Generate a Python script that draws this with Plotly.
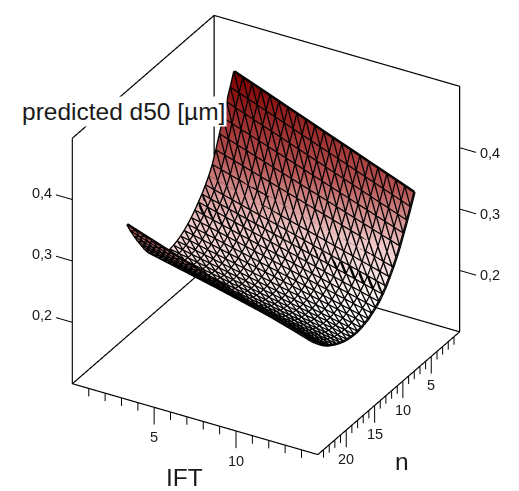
import plotly.graph_objects as go

# Grid of the surface
ift_values = [2.0, 2.55, 3.1, 3.65, 4.2, 4.75, 5.3, 5.85, 6.4, 6.95, 7.5, 8.05, 8.6, 9.15, 9.7, 10.25, 10.8, 11.35, 11.9, 12.45, 13.0]
n_values = [2.2, 2.83, 3.46, 4.09, 4.72, 5.35, 5.98, 6.61, 7.24, 7.87, 8.5, 9.13, 9.76, 10.39, 11.02, 11.65,
            12.28, 12.91, 13.54, 14.17, 14.8, 15.43, 16.06, 16.69, 17.32, 17.95, 18.58, 19.21, 19.84, 20.47, 21.1]
# d50 along the two IFT edges of the surface
d50_low_ift = [.442, .422, .403, .382, .361, .340, .321, .307, .296, .286, .278, .270, .263, .257, .252, .248,
               .245, .243, .242, .243, .245, .248, .253, .260, .268, .278, .290, .302, .315, .329, .344]
d50_high_ift = [.330, .312, .295, .279, .263, .249, .237, .226, .216, .208, .201, .196, .192, .188, .186, .184,
                .183, .183, .184, .185, .187, .190, .193, .197, .201, .206, .212, .219, .226, .234, .243]

ift_limits = [0, 15]
n_limits = [0, 25]
z_limits = [0.1, 0.5]
ift_ticks = list(range(1, 15))
ift_labels = {5: "5", 10: "10"}
n_ticks = list(range(1, 25))
n_labels = {5: "5", 10: "10", 15: "15", 20: "20"}
z_labels = {0.2: "0,2", 0.3: "0,3", 0.4: "0,4"}

# The grid lines along IFT are straight in the picture, so each row runs straight between its two edge readings
span = ift_values[-1] - ift_values[0]
z_grid = [[lo + (hi - lo) * (x - ift_values[0]) / span for x in ift_values]
          for lo, hi in zip(d50_low_ift, d50_high_ift)]

BLACK = "#000000"
colorscale = [[0, "#ffffff"], [0.28, "#f0c8c8"], [0.56, "#b85555"], [1, "#7d0000"]]


def polyline(segments, width, color=BLACK):
    xs, ys, zs = [], [], []
    for seg in segments:
        for p in seg:
            xs.append(p[0]); ys.append(p[1]); zs.append(p[2])
        xs.append(None); ys.append(None); zs.append(None)
    return go.Scatter3d(x=xs, y=ys, z=zs, mode="lines", line=dict(color=color, width=width),
                        hoverinfo="skip", showlegend=False)


fig = go.Figure()
fig.add_trace(go.Surface(x=ift_values, y=n_values, z=z_grid, colorscale=colorscale, cmin=0.19, cmax=0.44,
                         showscale=False, hoverinfo="skip",
                         lighting=dict(ambient=1, diffuse=0, specular=0, roughness=1, fresnel=0)))

wire = []
for j, n in enumerate(n_values):
    for i, x in enumerate(ift_values):
        p = (x, n, z_grid[j][i])
        if i + 1 < len(ift_values):
            wire.append([p, (ift_values[i + 1], n, z_grid[j][i + 1])])
        if j + 1 < len(n_values):
            wire.append([p, (x, n_values[j + 1], z_grid[j + 1][i])])
        if i + 1 < len(ift_values) and j + 1 < len(n_values):
            wire.append([p, (ift_values[i + 1], n_values[j + 1], z_grid[j + 1][i + 1])])
fig.add_trace(polyline(wire, 5))

x0, x1 = ift_limits
y0, y1 = n_limits
z0, z1 = z_limits
box = [
    [(x0, y1, z0), (x1, y1, z0)], [(x1, y1, z0), (x1, y0, z0)], [(x1, y0, z0), (x0, y0, z0)], [(x0, y0, z0), (x0, y1, z0)],
    [(x0, y1, z0), (x0, y1, z1)], [(x1, y0, z0), (x1, y0, z1)], [(x0, y0, z0), (x0, y0, z1)],
    [(x0, y1, z1), (x0, y0, z1)], [(x0, y0, z1), (x1, y0, z1)],
]
fig.add_trace(polyline(box, 2.4))

ticks = []
for t in ift_ticks:
    ticks.append([(t, y1, z0), (t, y1, z0 - (0.028 if t in ift_labels else 0.013))])
for t in n_ticks:
    ticks.append([(x1, t, z0), (x1, t, z0 - (0.028 if t in n_labels else 0.013))])
for z in z_labels:
    ticks.append([(x0, y1, z), (x0 - 1, y1, z)])
    ticks.append([(x1, y0, z), (x1 + 1, y0, z)])
fig.add_trace(polyline(ticks, 2))

FONT = "Liberation Sans"
TICK = dict(family=FONT, size=14.5, color="#1a1a1a")
TITLE = dict(family=FONT, size=24.5, color="#1a1a1a")
ann = []


def label(x, y, z, text, dx, dy, font=TICK, **kw):
    ann.append(dict(x=x, y=y, z=z, text=text, showarrow=False, xanchor="center", yanchor="middle",
                    xshift=dx, yshift=dy, font=font, **kw))


for z, t in z_labels.items():
    label(x0, y1, z, t, -30.5, 7)
    label(x1, y0, z, t, 30, -5)
for v, t in ift_labels.items():
    label(v, y1, z0, t, 0, -30)
for v, t in n_labels.items():
    label(x1, v, z0, t, 0, -29)
label(7.5, y1, z0, "IFT", -11, -58, TITLE)
label(x1, 12.5, z0, "n", 13, -68, TITLE)
label(x0, y1, z1, "predicted d50 [µm]", 51, 27, TITLE, bgcolor="#ffffff", borderpad=1)

hidden = dict(visible=False, showgrid=False, zeroline=False, showbackground=False, showspikes=False)
d = 1.282
zoom = 1.249
fig.update_layout(
    width=511, height=483, margin=dict(l=5, r=0, t=0, b=29), paper_bgcolor="#ffffff",
    scene=dict(
        xaxis=dict(hidden, range=[-1.5, 16.5]),
        yaxis=dict(hidden, range=[25.5, -0.5]),
        zaxis=dict(hidden, range=[0.06, 0.54]),
        aspectmode="manual", aspectratio=dict(x=1.2 * zoom, y=1.04 * zoom, z=1.2 * zoom),
        camera=dict(projection=dict(type="orthographic"), up=dict(x=0, y=0, z=1), center=dict(x=0, y=0, z=0),
                    eye=dict(x=0.433 * d, y=-0.75 * d, z=0.5 * d)),
        annotations=ann,
    ),
)
fig.write_html("out.html")
